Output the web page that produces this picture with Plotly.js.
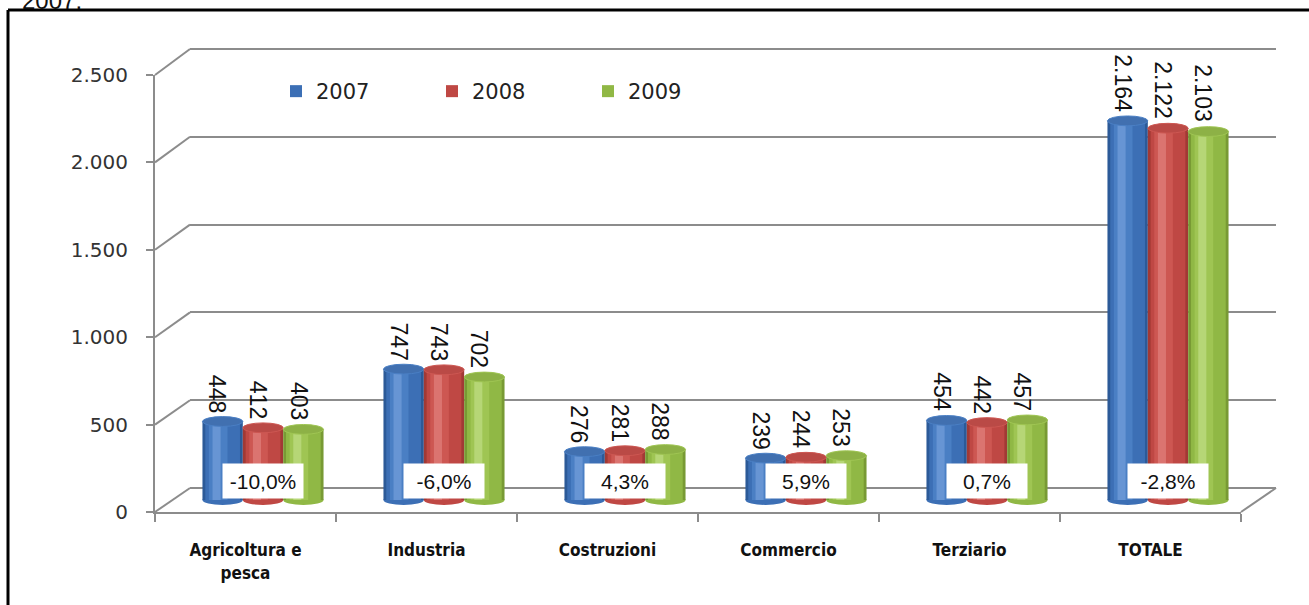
<!DOCTYPE html>
<html>
<head>
<meta charset="utf-8">
<script src="https://cdn.plot.ly/plotly-3.0.1.min.js"></script>
<style>
html,body{margin:0;padding:0;background:#fff;}
#chart{width:1309px;height:605px;}
</style>
</head>
<body>
<div id="chart"></div>
<script>
// ---- data ----
const categories = ['Agricoltura e<br>pesca', 'Industria', 'Costruzioni', 'Commercio', 'Terziario', 'TOTALE'];
const years = ['2007', '2008', '2009'];
const values2007 = [448, 747, 276, 239, 454, 2164];
const values2008 = [412, 743, 281, 244, 442, 2122];
const values2009 = [403, 702, 288, 253, 457, 2103];
const changeLabels = ['-10,0%', '-6,0%', '4,3%', '5,9%', '0,7%', '-2,8%'];
const yTickVals = [0, 500, 1000, 1500, 2000, 2500];
const yTickText = ['0', '500', '1.000', '1.500', '2.000', '2.500'];
const headerText = '2007.';

// ---- styling helpers ----
const W = 1309, H = 605;
const px = p => p / W;
const py = p => 1 - p / H;
const seriesValues = [values2007, values2008, values2009];
const palettes = [
  ['#2C5A98', '#3C6FB5', '#4A7FC4', '#6795D4', '#4170B0'],
  ['#A13935', '#BF4844', '#CD5752', '#DB7470', '#BA4A46'],
  ['#789A34', '#90B845', '#9FC553', '#B6D676', '#8DB146']
];
const layers = [[0, 1], [0.07, 0.93], [0.16, 0.62], [0.25, 0.45]];
const barW = 0.223;
const gray = '#8c8c8c';
const backScale = 439 / 2500;
const fmt = v => String(v).replace(/\B(?=(\d{3})+(?!\d))/g, '.');

const traces = [];
// invisible carriers so the back-wall and front-axis subplots get drawn
traces.push({type: 'scatter', mode: 'none', x: categories, y: values2007, xaxis: 'x', yaxis: 'y',
  showlegend: false, hoverinfo: 'skip'});
traces.push({type: 'scatter', mode: 'none', x: categories, y: values2007, xaxis: 'x3', yaxis: 'y3',
  showlegend: false, hoverinfo: 'skip'});
seriesValues.forEach((vals, i) => {
  const c = (i - 1) * barW;
  layers.forEach((ly, j) => {
    traces.push({
      type: 'bar',
      x: categories,
      y: vals,
      name: years[i],
      xaxis: 'x2', yaxis: 'y2',
      offset: c - barW / 2 + ly[0] * barW,
      width: (ly[1] - ly[0]) * barW,
      marker: {color: palettes[i][j], line: {width: 0}},
      showlegend: j === 1,
      legendgroup: years[i],
      hoverinfo: j === 1 ? 'x+y+name' : 'skip'
    });
  });
});

const shapes = [];
const annotations = [];
const ellH = 28;
seriesValues.forEach((vals, i) => {
  const c = (i - 1) * barW;
  vals.forEach((v, k) => {
    shapes.push({type: 'circle', xref: 'x2', yref: 'y2', layer: 'below',
      x0: k + c - barW / 2, x1: k + c + barW / 2, y0: -ellH, y1: ellH,
      fillcolor: palettes[i][1], line: {width: 0}});
    shapes.push({type: 'circle', xref: 'x2', yref: 'y2', layer: 'above',
      x0: k + c - barW / 2, x1: k + c + barW / 2, y0: v - ellH, y1: v + ellH,
      fillcolor: palettes[i][4], line: {width: 1, color: palettes[i][2]}});
    annotations.push({xref: 'x2', yref: 'y2', x: k + c, y: v, text: fmt(v),
      textangle: 90, showarrow: false, yanchor: 'bottom', xanchor: 'center',
      yshift: 7, xshift: -5,
      font: {family: 'Liberation Sans, Arial, sans-serif', size: 23, color: '#111'}});
  });
});
changeLabels.forEach((t, k) => {
  annotations.push({xref: 'x2', yref: 'paper', x: k, y: py(481), text: t,
    xanchor: 'center', yanchor: 'middle',
    showarrow: false, bgcolor: '#ffffff', borderpad: 5, width: 70, height: 24,
    font: {family: 'Liberation Sans, Arial, sans-serif', size: 21, color: '#111'}});
});
annotations.push({xref: 'paper', yref: 'paper', x: px(20), y: py(16), xanchor: 'left', yanchor: 'bottom',
  text: headerText, showarrow: false,
  font: {family: 'Liberation Sans, Arial, sans-serif', size: 24, color: '#111'}});

// perspective connectors from front axis ticks to back wall
yTickVals.forEach(v => {
  const yf = 512 - v * (437 / 2500);
  const yb = 488 - v * backScale;
  shapes.push({type: 'line', xref: 'paper', yref: 'paper', layer: 'below',
    x0: px(155), y0: py(yf), x1: px(190), y1: py(yb), line: {color: gray, width: 2}});
});
shapes.push({type: 'line', xref: 'paper', yref: 'paper', layer: 'below',
  x0: px(1241), y0: py(512), x1: px(1276), y1: py(488), line: {color: gray, width: 2}});
shapes.push({type: 'line', xref: 'paper', yref: 'paper', x0: px(8), y0: py(10), x1: px(1309), y1: py(10), line: {color: '#000', width: 3}});
shapes.push({type: 'line', xref: 'paper', yref: 'paper', x0: px(8), y0: py(10), x1: px(8), y1: py(610), line: {color: '#000', width: 3}});

const layout = {
  width: W, height: H,
  margin: {l: 0, r: 0, t: 0, b: 0},
  paper_bgcolor: '#ffffff', plot_bgcolor: 'rgba(0,0,0,0)',
  barmode: 'overlay',
  showlegend: true,
  legend: {orientation: 'h', x: px(276), xanchor: 'left', y: py(71), yanchor: 'top',
    entrywidth: 111, entrywidthmode: 'pixels', bgcolor: 'rgba(0,0,0,0)',
    font: {family: 'DejaVu Sans, sans-serif', size: 21, color: '#222'}},
  // back wall with gridlines
  xaxis: {domain: [px(190), px(1276)], anchor: 'y', type: 'category',
    categoryorder: 'array', categoryarray: categories, range: [-0.5, 5.5], visible: false, fixedrange: true},
  yaxis: {domain: [py(488 + 30 * backScale), py(488 - 2550 * backScale)], anchor: 'x', range: [-30, 2550],
    tickmode: 'array', tickvals: yTickVals,
    showticklabels: false, ticks: '', showgrid: true, gridcolor: gray, gridwidth: 2,
    zeroline: false, showline: false, fixedrange: true},
  // cylinders
  xaxis2: {domain: [px(172.5), px(1258.5)], anchor: 'y2', type: 'category',
    categoryorder: 'array', categoryarray: categories, range: [-0.5, 5.5], visible: false, fixedrange: true},
  yaxis2: {domain: [py(500 + 60 * 438 / 2500), py(500 - 438)], anchor: 'x2', range: [-60, 2500],
    visible: false, fixedrange: true},
  // front axes
  xaxis3: {domain: [px(155), px(1241)], anchor: 'y3', type: 'category',
    categoryorder: 'array', categoryarray: categories, range: [-0.5, 5.5],
    showline: true, linecolor: gray, linewidth: 2, ticks: 'outside', tickson: 'boundaries',
    ticklen: 8, tickcolor: gray, tickwidth: 2, showgrid: false, zeroline: false,
    ticklabelstandoff: 22,
    tickfont: {family: 'DejaVu Sans Condensed, DejaVu Sans, sans-serif', size: 17, color: '#111', weight: 'bold'},
    fixedrange: true},
  yaxis3: {domain: [py(512), py(75)], anchor: 'x3', range: [0, 2500],
    tickmode: 'array', tickvals: yTickVals, ticktext: yTickText,
    showline: true, linecolor: gray, linewidth: 2, ticks: 'outside', ticklen: 7,
    tickcolor: gray, tickwidth: 2, showgrid: false, zeroline: false,
    ticklabelstandoff: 14,
    tickfont: {family: 'DejaVu Sans, sans-serif', size: 20, color: '#333'}, fixedrange: true},
  shapes: shapes,
  annotations: annotations
};

Plotly.newPlot('chart', traces, layout, {displayModeBar: false, staticPlot: true});
</script>
</body>
</html>
